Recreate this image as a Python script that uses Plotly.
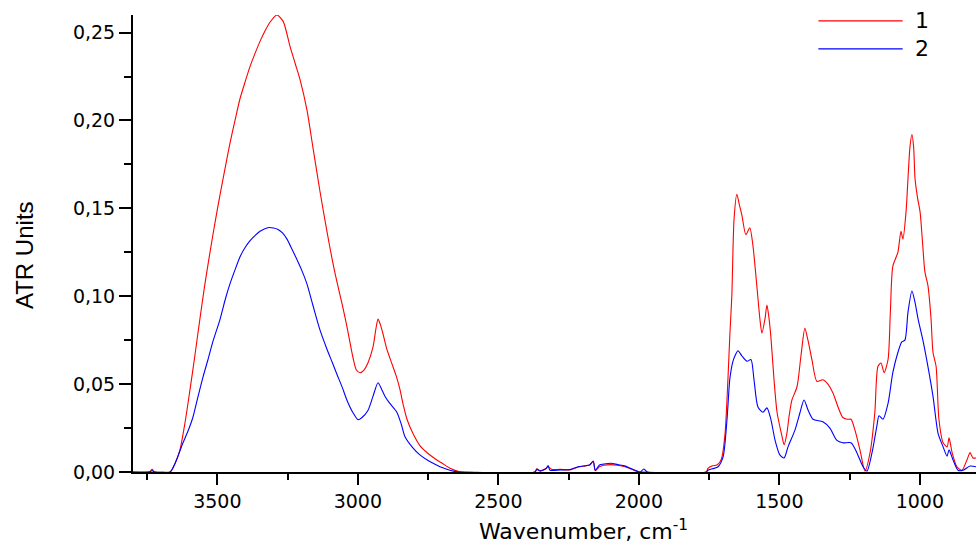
import plotly.graph_objects as go

# Series 1 (red) — wavenumber (cm-1) and ATR units
red_x = [3800, 3760, 3740, 3732, 3725, 3700, 3668, 3650, 3633, 3615, 3597, 3580, 3562, 3545, 3526, 3508,
         3490, 3472, 3455, 3437, 3419, 3400, 3384, 3366, 3348, 3330, 3312, 3288, 3266, 3241, 3222, 3206,
         3181, 3160, 3135, 3110, 3090, 3074, 3055, 3039, 3017, 3005, 2992, 2978, 2964, 2946, 2935, 2928,
         2920, 2911, 2897, 2875, 2862, 2850, 2838, 2825, 2804, 2779, 2750, 2720, 2700, 2670, 2640, 2600,
         2370, 2363, 2350, 2330, 2323, 2310, 2280, 2245, 2216, 2190, 2175, 2162, 2155, 2140, 2125, 2100,
         2075, 2050, 2025, 2005, 1990, 1760, 1754, 1738, 1722, 1710, 1704, 1693, 1683, 1676, 1669, 1661,
         1651, 1642, 1633, 1619, 1605, 1594, 1580, 1569, 1562, 1551, 1544, 1537, 1530, 1519, 1508, 1490,
         1483, 1473, 1465, 1455, 1437, 1423, 1409, 1398, 1384, 1366, 1345, 1327, 1309, 1291, 1274, 1258,
         1245, 1231, 1213, 1195, 1177, 1160, 1149, 1138, 1127, 1113, 1105, 1096, 1078, 1067, 1060, 1049,
         1042, 1035, 1028, 1022, 1017, 1008, 999, 990, 982, 971, 960, 953, 942, 932, 917, 903,
         896, 885, 868, 850, 832, 821, 811, 800]
red_y = [0, 0, 0.0003, 0.0015, 0.0003, 0, 0, 0.005, 0.0126, 0.028, 0.047, 0.066, 0.087, 0.106, 0.125, 0.142,
         0.158, 0.173, 0.187, 0.200, 0.2125, 0.2225, 0.2305, 0.238, 0.245, 0.251, 0.256, 0.260, 0.2565, 0.242, 0.232, 0.2235,
         0.206, 0.185, 0.160, 0.137, 0.120, 0.108, 0.095, 0.083, 0.065, 0.058, 0.0565, 0.058, 0.062, 0.071, 0.082, 0.087,
         0.084, 0.079, 0.070, 0.060, 0.054, 0.047, 0.038, 0.030, 0.022, 0.015, 0.0105, 0.007, 0.005, 0.002, 0.0003, 0,
         0, 0.0018, 0.0008, 0.002, 0.003, 0.0015, 0.0015, 0.0012, 0.0028, 0.0035, 0.004, 0.0058, 0.0008, 0.003, 0.0038, 0.0042,
         0.0038, 0.003, 0.0015, 0.0002, 0, 0, 0.002, 0.0035, 0.004, 0.006, 0.0086, 0.022, 0.052, 0.078, 0.100, 0.144,
         0.158, 0.152, 0.146, 0.135, 0.139, 0.129, 0.106, 0.087, 0.079, 0.087, 0.095, 0.088, 0.077, 0.053, 0.034, 0.020,
         0.0155, 0.022, 0.032, 0.041, 0.0485, 0.066, 0.0817, 0.075, 0.064, 0.0515, 0.0525, 0.050, 0.045, 0.037, 0.031, 0.030,
         0.030, 0.024, 0.0126, 0.0005, 0.011, 0.034, 0.060, 0.062, 0.0565, 0.064, 0.090, 0.117, 0.125, 0.137, 0.1325, 0.148,
         0.167, 0.185, 0.192, 0.185, 0.167, 0.156, 0.148, 0.130, 0.114, 0.106, 0.087, 0.068, 0.060, 0.030, 0.0166, 0.0143,
         0.0194, 0.011, 0.003, 0.001, 0.007, 0.011, 0.008, 0.008]

# Series 2 (blue)
blue_x = [3800, 3740, 3732, 3725, 3668, 3650, 3622, 3605, 3587, 3570, 3551, 3533, 3516, 3490, 3472, 3455,
          3437, 3419, 3400, 3384, 3366, 3348, 3320, 3300, 3284, 3268, 3252, 3235, 3217, 3200, 3181, 3160,
          3135, 3110, 3090, 3074, 3055, 3039, 3017, 2999, 2985, 2964, 2946, 2928, 2915, 2903, 2886, 2861,
          2845, 2832, 2804, 2779, 2750, 2720, 2700, 2670, 2640, 2370, 2363, 2350, 2330, 2323, 2316, 2280,
          2245, 2216, 2190, 2175, 2162, 2155, 2140, 2125, 2100, 2075, 2050, 2025, 2005, 1995, 1982, 1970,
          1760, 1754, 1718, 1700, 1686, 1676, 1665, 1658, 1647, 1633, 1615, 1601, 1590, 1576, 1558, 1544,
          1530, 1515, 1498, 1483, 1469, 1444, 1426, 1412, 1398, 1380, 1345, 1320, 1295, 1274, 1245, 1224,
          1202, 1188, 1170, 1153, 1145, 1131, 1113, 1096, 1078, 1064, 1053, 1042, 1028, 1017, 1006, 989,
          971, 953, 935, 917, 903, 896, 882, 864, 846, 821, 800]
blue_y = [0, 0, 0.0008, 0, 0, 0.005, 0.0166, 0.023, 0.031, 0.042, 0.054, 0.064, 0.074, 0.087, 0.098, 0.107,
          0.115, 0.1225, 0.128, 0.1315, 0.1345, 0.137, 0.139, 0.1388, 0.138, 0.136, 0.1325, 0.127, 0.121, 0.115, 0.107, 0.095,
          0.081, 0.070, 0.062, 0.0555, 0.048, 0.041, 0.0337, 0.0297, 0.031, 0.035, 0.043, 0.0508, 0.047, 0.043, 0.039, 0.034,
          0.027, 0.020, 0.0137, 0.0097, 0.0065, 0.004, 0.0025, 0.0008, 0, 0, 0.0015, 0.0005, 0.002, 0.0036, 0.001, 0.0012,
          0.0014, 0.003, 0.0036, 0.004, 0.0063, 0.001, 0.004, 0.0045, 0.005, 0.0042, 0.0035, 0.0018, 0.0005, 0, 0.0017, 0,
          0, 0.001, 0.003, 0.0086, 0.030, 0.053, 0.063, 0.066, 0.069, 0.066, 0.063, 0.064, 0.0525, 0.037, 0.034, 0.0365,
          0.030, 0.018, 0.0097, 0.008, 0.0143, 0.024, 0.034, 0.041, 0.0354, 0.030, 0.0286, 0.025, 0.018, 0.0166, 0.0166, 0.011,
          0.003, 0.0005, 0.011, 0.026, 0.032, 0.030, 0.039, 0.0565, 0.068, 0.074, 0.075, 0.091, 0.103, 0.0965, 0.087, 0.075,
          0.060, 0.043, 0.022, 0.0143, 0.009, 0.0126, 0.007, 0.001, 0.001, 0.0034, 0.003]

series_names = ["1", "2"]
series_colors = ["#ff0000", "#0000ff"]

x_range = [3800, 800]
y_range = [0, 0.26]

fig = go.Figure()
for name, xs, ys, col in [(series_names[0], red_x, red_y, series_colors[0]),
                          (series_names[1], blue_x, blue_y, series_colors[1])]:
    fig.add_trace(go.Scatter(x=xs, y=ys, mode="lines", name=name, showlegend=False,
                             line=dict(color=col, width=1.1, shape="spline", smoothing=0.7)))

tick_font = dict(family="DejaVu Sans", size=19, color="black")

fig.update_layout(
    width=976, height=546,
    margin=dict(l=133, r=0, t=15, b=74),
    plot_bgcolor="white", paper_bgcolor="white",
    separators=", ",
    xaxis=dict(range=x_range, showline=True, linecolor="black", linewidth=2,
               showgrid=False, zeroline=False, ticks="outside", ticklen=11, tickwidth=2,
               tickcolor="black", dtick=500, tick0=0, tickformat="d", tickfont=tick_font,
               minor=dict(dtick=250, ticklen=6, tickwidth=2, tickcolor="black", ticks="outside", showgrid=False)),
    yaxis=dict(range=y_range, showline=True, linecolor="black", linewidth=2,
               showgrid=False, zeroline=False, ticks="outside", ticklen=12, tickwidth=2,
               tickcolor="black", dtick=0.05, tick0=0, tickformat=".2f", tickfont=tick_font,
               minor=dict(dtick=0.025, ticklen=7, tickwidth=2, tickcolor="black", ticks="outside", showgrid=False)),
)

# Axis titles
fig.add_annotation(text="Wavenumber, cm<sup>-1</sup>", xref="paper", yref="paper",
                   x=0.534, y=-0.126, xanchor="center", yanchor="middle", showarrow=False,
                   font=dict(family="DejaVu Sans", size=22, color="black"))
fig.add_annotation(text="ATR Units", xref="paper", yref="paper", textangle=-90,
                   x=-0.128, y=0.475, xanchor="center", yanchor="middle", showarrow=False,
                   font=dict(family="Liberation Sans", size=24, color="black"))

# Legend (drawn manually to match the long legend lines)
legend_y = [0.987, 0.926]
for name, col, ly in zip(series_names, series_colors, legend_y):
    fig.add_shape(type="line", xref="paper", yref="paper", x0=0.813, x1=0.913, y0=ly, y1=ly,
                  line=dict(color=col, width=1.2))
    fig.add_annotation(text=name, xref="paper", yref="paper", x=0.925, y=ly, xanchor="left",
                       yanchor="middle", showarrow=False,
                       font=dict(family="DejaVu Sans", size=22, color="black"))

fig.write_html("out.html")
